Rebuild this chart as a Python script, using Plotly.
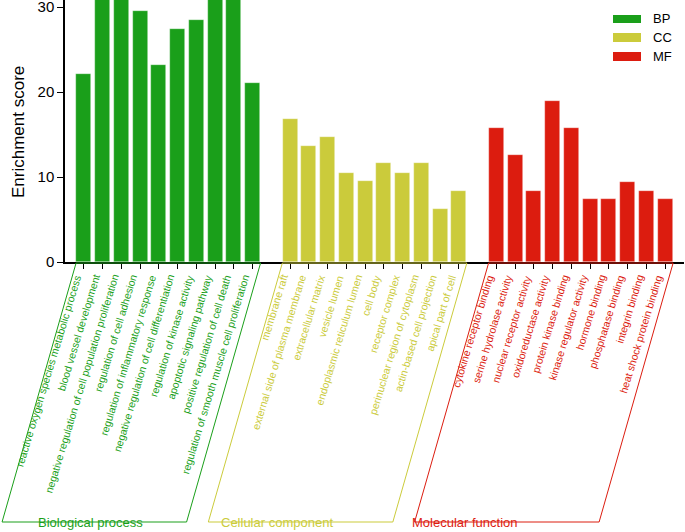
import plotly.graph_objects as go

# ---- data ----
bp_terms = [
    "reactive oxygen species metabolic process",
    "blood vessel development",
    "negative regulation of cell population proliferation",
    "regulation of cell adhesion",
    "regulation of inflammatory response",
    "negative regulation of cell differentiation",
    "regulation of kinase activity",
    "apoptotic signaling pathway",
    "positive regulation of cell death",
    "regulation of smooth muscle cell proliferation",
]
bp_scores = [22.1, 31.0, 31.0, 29.5, 23.2, 27.4, 28.5, 31.0, 31.0, 21.1]

cc_terms = [
    "membrane raft",
    "external side of plasma membrane",
    "extracellular matrix",
    "vesicle lumen",
    "endoplasmic reticulum lumen",
    "cell body",
    "receptor complex",
    "perinuclear region of cytoplasm",
    "actin-based cell projection",
    "apical part of cell",
]
cc_scores = [16.8, 13.7, 14.7, 10.5, 9.5, 11.6, 10.5, 11.6, 6.3, 8.4]

mf_terms = [
    "cytokine receptor binding",
    "serine hydrolase activity",
    "nuclear receptor activity",
    "oxidoreductase activity",
    "protein kinase binding",
    "kinase regulator activity",
    "hormone binding",
    "phosphatase binding",
    "integrin binding",
    "heat shock protein binding",
]
mf_scores = [15.8, 12.6, 8.4, 19.0, 15.8, 7.4, 7.4, 9.4, 8.4, 7.4]

group_codes = ["BP", "CC", "MF"]
group_names = ["Biological process", "Cellular component", "Molecular function"]
group_colors = ["#1a9f1a", "#cbcb3b", "#dc1c0f"]
y_ticks = [0, 10, 20, 30]

groups = [(bp_terms, bp_scores), (cc_terms, cc_scores), (mf_terms, mf_scores)]

FONT = "Arial, Liberation Sans, sans-serif"
W, H = 685, 532
ML, MR, MT, MB = 65, 1, 0, 270
PW = W - ML - MR
PH = H - MT - MB
XR = [-1.01, 32.0]
YR = [0, 30.85]

def px_to_paper_y(py):
    return (H - MB - py) / PH

def px_to_paper_x(px):
    return (px - ML) / PW

def x_to_paper(xv):
    return (xv - XR[0]) / (XR[1] - XR[0])

slot_w = PW / (XR[1] - XR[0])

fig = go.Figure()
tickvals = []
shapes, annotations = [], []

for gi, ((terms, scores), code, name, color) in enumerate(
        zip(groups, group_codes, group_names, group_colors)):
    xs = [gi * (len(terms) + 1) + i for i in range(len(terms))]
    fig.add_trace(go.Bar(
        x=xs, y=scores, name=code, width=0.8,
        marker=dict(color=color, line=dict(color="rgba(255,255,255,0.6)", width=0.6)),
        showlegend=False,
    ))
    tickvals += xs

    # rotated category labels
    for xv, term in zip(xs, terms):
        annotations.append(dict(
            text=term, xref="x", yref="paper",
            x=xv + 0.02, y=px_to_paper_y(272),
            xanchor="right", yanchor="top", textangle=-73, showarrow=False,
            borderpad=0,
            font=dict(family=FONT, size=10.5, color=color),
        ))

    # parallelogram bracket around labels (paper coords so it is not clipped)
    shift = 74 / PW
    x0 = x_to_paper(xs[0] - 0.42)
    x1 = x_to_paper(xs[-1] + 0.42)
    yt = px_to_paper_y(263)
    yb = px_to_paper_y(522)
    shapes.append(dict(
        type="path", xref="paper", yref="paper",
        path=f"M {x0},{yt} L {x1},{yt} L {x1 - shift},{yb} L {x0 - shift},{yb} Z",
        line=dict(color=color, width=1), fillcolor="rgba(0,0,0,0)", layer="above",
    ))

# group names
name_px = [36, 219, 410]
for name, color, px in zip(group_names, group_colors, name_px):
    annotations.append(dict(
        text=name, xref="paper", yref="paper",
        x=px_to_paper_x(px), y=px_to_paper_y(522),
        xanchor="left", yanchor="middle", showarrow=False,
        font=dict(family=FONT, size=13, color=color),
    ))

# legend (manual)
leg_rows = [(15, 23), (33, 42), (52, 61)]
for code, color, (t, b) in zip(group_codes, group_colors, leg_rows):
    shapes.append(dict(
        type="rect", xref="paper", yref="paper",
        x0=px_to_paper_x(613), x1=px_to_paper_x(641),
        y0=px_to_paper_y(b), y1=px_to_paper_y(t),
        fillcolor=color, line=dict(width=0),
    ))
    annotations.append(dict(
        text=code, xref="paper", yref="paper",
        x=px_to_paper_x(651), y=px_to_paper_y((t + b) / 2),
        xanchor="left", yanchor="middle", showarrow=False,
        font=dict(family=FONT, size=13, color="black"),
    ))

# y-axis title
annotations.append(dict(
    text="Enrichment score", xref="paper", yref="paper",
    x=px_to_paper_x(18), y=px_to_paper_y(132), textangle=-90,
    xanchor="center", yanchor="middle", showarrow=False,
    font=dict(family=FONT, size=17, color="black"),
))

fig.update_layout(
    width=W, height=H,
    margin=dict(l=ML, r=MR, t=MT, b=MB, autoexpand=False),
    plot_bgcolor="white", paper_bgcolor="white",
    bargap=0, shapes=shapes, annotations=annotations,
    font=dict(family=FONT, color="black"),
    xaxis=dict(
        range=XR, tickvals=tickvals, showticklabels=False,
        ticks="outside", ticklen=5, tickwidth=1.2, tickcolor="black",
        showline=True, linecolor="black", linewidth=1.5,
        showgrid=False, zeroline=False, automargin=False,
    ),
    yaxis=dict(
        range=YR, tickvals=y_ticks, ticks="outside", ticklen=6, tickwidth=1.2,
        tickcolor="black", showline=True, linecolor="black", linewidth=1.5,
        showgrid=False, zeroline=False, tickfont=dict(family=FONT, size=15),
        ticklabeloverflow="allow", automargin=False,
    ),
)

fig.write_html(
    "out.html",
    config={"displayModeBar": False},
    post_script="document.body.style.margin='0px';",
)
